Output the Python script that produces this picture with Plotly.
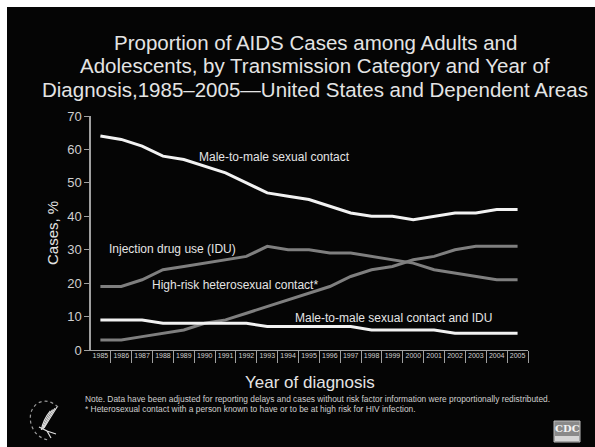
import plotly.graph_objects as go

# Year of diagnosis
years = [str(y) for y in range(1985, 2006)]

# Percent of AIDS cases by transmission category
msm = [64, 63, 61, 58, 57, 55, 53, 50, 47, 46, 45, 43, 41, 40, 40, 39, 40, 41, 41, 42, 42]
idu = [19, 19, 21, 24, 25, 26, 27, 28, 31, 30, 30, 29, 29, 28, 27, 26, 24, 23, 22, 21, 21]
hetero = [3, 3, 4, 5, 6, 8, 9, 11, 13, 15, 17, 19, 22, 24, 25, 27, 28, 30, 31, 31, 31]
msm_idu = [9, 9, 9, 8, 8, 8, 8, 8, 7, 7, 7, 7, 7, 6, 6, 6, 6, 5, 5, 5, 5]

y_ticks = [0, 10, 20, 30, 40, 50, 60, 70]

W, H = 595, 447
L, R, T, B = 91, 67, 116, 97
PW, PH = W - L - R, H - T - B

WHITE = "#f2f2f2"
GRAY = "#7f7f7f"
TEXT = "#e4e4e4"
FONT = "Liberation Sans, Arial, sans-serif"


def px(x):
    return (x - L) / PW


def py(y):
    return (H - B - y) / PH


fig = go.Figure()
series = [
    (msm, WHITE),
    (idu, GRAY),
    (hetero, GRAY),
    (msm_idu, WHITE),
]
for vals, col in series:
    fig.add_trace(go.Scatter(x=years, y=vals, mode="lines",
                             line=dict(color=col, width=3),
                             hoverinfo="skip", showlegend=False))

# Series labels, placed by category position and value
labels = [
    ("Male-to-male sexual contact", 8.33, 57.7),
    ("Injection drug use (IDU)", 3.47, 30.2),
    ("High-risk heterosexual contact*", 6.45, 19.4),
    ("Male-to-male sexual contact and IDU", 14.04, 9.6),
]
annotations = []
for txt, xc, yv in labels:
    annotations.append(dict(text=txt, x=xc, y=yv, xref="x", yref="y",
                            showarrow=False, xanchor="center", yanchor="middle",
                            font=dict(family=FONT, size=12, color=TEXT)))

# Title block
title_lines = [
    "Proportion of AIDS Cases among Adults and",
    "Adolescents, by Transmission Category and Year of",
    "Diagnosis,1985\u20132005\u2014United States and Dependent Areas",
]
for i, line in enumerate(title_lines):
    annotations.append(dict(text=line, x=px(315), y=py(42 + 23.5 * i),
                            xref="paper", yref="paper", showarrow=False,
                            xanchor="center", yanchor="middle",
                            font=dict(family=FONT, size=20.5, color=TEXT)))

annotations.append(dict(text="Year of diagnosis", x=px(310), y=py(382),
                        xref="paper", yref="paper", showarrow=False,
                        xanchor="center", yanchor="middle",
                        font=dict(family=FONT, size=17, color=TEXT)))

notes = [
    "Note. Data have been adjusted for reporting delays and cases without risk factor information were proportionally redistributed.",
    "* Heterosexual contact with a person known to have or to be at high risk for HIV infection.",
]
for i, line in enumerate(notes):
    annotations.append(dict(text=line, x=px(83), y=py(399 + 10 * i),
                            xref="paper", yref="paper", showarrow=False,
                            xanchor="left", yanchor="middle",
                            font=dict(family=FONT, size=8.4, color="#cfcfcf")))

annotations.append(dict(text="Cases, %", x=px(52), y=py(233),
                        xref="paper", yref="paper", showarrow=False,
                        textangle=-90, xanchor="center", yanchor="middle",
                        font=dict(family=FONT, size=15, color=TEXT)))

# CDC mark text
annotations.append(dict(text="<b>CDC</b>", x=px(567), y=py(428),
                        xref="paper", yref="paper", showarrow=False,
                        xanchor="center", yanchor="middle",
                        font=dict(family="DejaVu Serif, serif", size=10, color="#f4f4f4")))

shapes = [
    # dark slide panel
    dict(type="rect", xref="paper", yref="paper", layer="below",
         x0=px(7), x1=px(W + 5), y0=py(H + 5), y1=py(7),
         fillcolor="#050505", line=dict(width=0)),
    # CDC box
    dict(type="rect", xref="paper", yref="paper",
         x0=px(554), x1=px(580), y0=py(442), y1=py(421),
         fillcolor="#8a8a8a", line=dict(color="#bdbdbd", width=1)),
    dict(type="rect", xref="paper", yref="paper",
         x0=px(555), x1=px(579), y0=py(441), y1=py(436),
         fillcolor="#d6d6d6", line=dict(width=0)),
    # HHS emblem ring
    dict(type="path", xref="paper", yref="paper",
         path=(f"M {px(58)},{py(407)} "
               f"Q {px(48)},{py(398)} {px(38)},{py(403)} "
               f"Q {px(28)},{py(410)} {px(31)},{py(424)} "
               f"Q {px(35)},{py(437)} {px(48)},{py(440)}"),
         line=dict(color="#9a9a9a", width=1.2, dash="dot")),
]
# HHS emblem wing strokes
for k in range(4):
    dx = 2.2 * k
    shapes.append(dict(
        type="path", xref="paper", yref="paper",
        path=(f"M {px(57 - dx)},{py(407 + dx * 0.6)} "
              f"Q {px(50 - dx)},{py(418 + dx * 0.2)} {px(44 - dx * 0.4)},{py(428 + dx * 0.3)}"),
        line=dict(color="#e0e0e0", width=1.2)))
shapes.append(dict(type="path", xref="paper", yref="paper",
                   path=(f"M {px(39)},{py(427)} L {px(47)},{py(431)} "
                         f"L {px(51)},{py(438)} M {px(47)},{py(431)} L {px(56)},{py(434)}"),
                   line=dict(color="#e0e0e0", width=1.2)))

fig.update_layout(
    width=W, height=H,
    margin=dict(l=L, r=R, t=T, b=B),
    paper_bgcolor="white",
    plot_bgcolor="rgba(0,0,0,0)",
    annotations=annotations,
    shapes=shapes,
    xaxis=dict(
        type="category", range=[-0.45, 20.5],
        showline=True, linecolor="#a0a0a0", linewidth=1,
        ticks="outside", ticklen=12, tickcolor="#a0a0a0", tickwidth=1,
        tickson="boundaries", ticklabelstandoff=-1, tickangle=0,
        tickfont=dict(family="Liberation Sans Narrow, Liberation Sans, Arial", size=7, color="#d0d0d0"),
        showgrid=False, zeroline=False,
    ),
    yaxis=dict(
        range=[0, 70], tickvals=y_ticks,
        showline=True, linecolor="#a0a0a0", linewidth=1.5,
        ticks="outside", ticklen=5, tickcolor="#a0a0a0",
        tickfont=dict(family=FONT, size=13, color="#cfcfcf"),
        showgrid=False, zeroline=False,
    ),
)

fig.write_html("out.html")
